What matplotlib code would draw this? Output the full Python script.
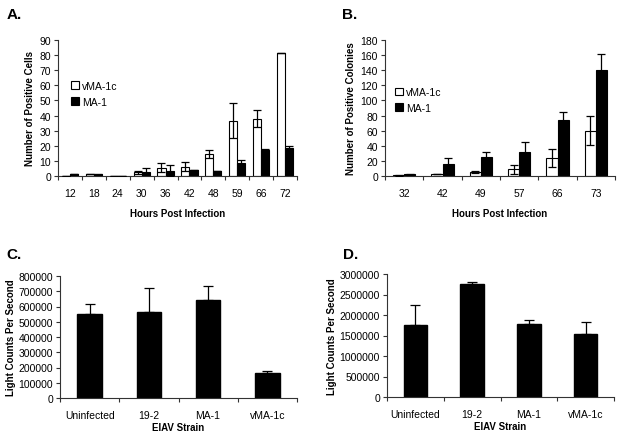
import matplotlib
matplotlib.use("Agg")
import matplotlib.pyplot as plt
import numpy as np
from matplotlib.patches import Patch

plt.rcParams['font.family'] = ['Liberation Sans', 'DejaVu Sans']

# Panel A
hours_a = ["12", "18", "24", "30", "36", "42", "48", "59", "66", "72"]
a_vma1c = [0.3, 1.0, 0.0, 2.5, 5.5, 6.0, 14.5, 36.5, 38.0, 81.5]
a_vma1c_err = [0.0, 0.0, 0.0, 1.0, 3.0, 3.0, 2.5, 11.5, 5.5, 0.0]
a_ma1 = [1.0, 1.0, 0.0, 2.5, 3.5, 4.3, 3.5, 8.5, 17.5, 18.5]
a_ma1_err = [0.0, 0.3, 0.0, 3.0, 3.8, 0.0, 0.0, 1.8, 0.5, 1.5]

# Panel B
hours_b = ["32", "42", "49", "57", "66", "73"]
b_vma1c = [1.0, 3.0, 5.0, 9.0, 24.0, 60.0]
b_vma1c_err = [0.5, 0.0, 1.5, 6.0, 11.5, 19.5]
b_ma1 = [2.0, 15.5, 24.5, 32.0, 74.0, 140.5]
b_ma1_err = [1.0, 8.5, 7.0, 13.0, 10.5, 21.5]

# Panel C
strains = ["Uninfected", "19-2", "MA-1", "vMA-1c"]
c_vals = [554000, 567000, 643000, 163000]
c_err = [63000, 155000, 92000, 15000]

# Panel D
d_vals = [1745000, 2755000, 1790000, 1545000]
d_err = [495000, 45000, 95000, 285000]

W, H = 618, 435
fig = plt.figure(figsize=(W / 100, H / 100), dpi=100)

def add_ax(left, right, top, bottom):
    return fig.add_axes([left / W, 1 - bottom / H, (right - left) / W, (bottom - top) / H])

TICK_FS = 7.5
LAB_FS = 7
LW = 0.8

def style(ax, n, ylim, yticks, fmt=None):
    for s in ['top', 'right']:
        ax.spines[s].set_visible(False)
    for s in ['left', 'bottom']:
        ax.spines[s].set_linewidth(LW)
        ax.spines[s].set_color('#333333')
    ax.set_xlim(-0.5, n - 0.5)
    ax.set_ylim(*ylim)
    ax.set_yticks(yticks)
    if fmt is not None:
        ax.set_yticklabels([fmt(v) for v in yticks])
    ax.set_xticks(np.arange(n))
    ax.set_xticks(np.arange(n + 1) - 0.5, minor=True)
    ax.tick_params(axis='x', which='major', length=0, labelsize=TICK_FS, pad=9)
    ax.tick_params(axis='x', which='minor', length=3, width=LW, direction='out', color='#333333')
    ax.tick_params(axis='y', which='major', length=3, width=LW, direction='out', labelsize=TICK_FS, pad=2, color='#333333')

def grouped(ax, cats, v1, e1, v2, e2, w, ylim, yticks, ylabel, legxy):
    x = np.arange(len(cats))
    ax.bar(x - w / 2, v1, w, color='white', edgecolor='black', linewidth=0.8, zorder=2)
    ax.bar(x + w / 2, v2, w, color='black', edgecolor='black', linewidth=0.8, zorder=2)
    ax.errorbar(x - w / 2, v1, yerr=e1, fmt='none', ecolor='black', elinewidth=0.9, capsize=3, capthick=0.9, zorder=3)
    ax.errorbar(x + w / 2, v2, yerr=e2, fmt='none', ecolor='black', elinewidth=0.9, capsize=3, capthick=0.9, zorder=3)
    style(ax, len(cats), ylim, yticks)
    ax.set_xticklabels(cats)
    ax.set_xlabel("Hours Post Infection", fontsize=LAB_FS, fontweight='bold', labelpad=7)
    ax.set_ylabel(ylabel, fontsize=LAB_FS, fontweight='bold', labelpad=3)
    handles = [Patch(facecolor='white', edgecolor='black', linewidth=0.8, label='vMA-1c'),
               Patch(facecolor='black', edgecolor='black', linewidth=0.8, label='MA-1')]
    ax.legend(handles=handles, loc='center left', bbox_to_anchor=legxy, frameon=False,
              fontsize=TICK_FS, handlelength=0.75, handleheight=0.75, handletextpad=0.3,
              labelspacing=0.55, borderpad=0, borderaxespad=0)

axA = add_ax(58, 297, 41, 177)
grouped(axA, hours_a, a_vma1c, a_vma1c_err, a_ma1, a_ma1_err, 0.34, (0, 90),
        np.arange(0, 91, 10), "Number of Positive Cells", (0.055, 0.605))

axB = add_ax(385, 615, 41, 177)
grouped(axB, hours_b, b_vma1c, b_vma1c_err, b_ma1, b_ma1_err, 0.29, (0, 180),
        np.arange(0, 181, 20), "Number of Positive Colonies", (0.045, 0.56))

def single(ax, vals, err, ylim, yticks):
    x = np.arange(len(strains))
    ax.bar(x, vals, 0.41, color='black', edgecolor='black', zorder=2)
    ax.errorbar(x, vals, yerr=[np.zeros(len(err)), err], fmt='none', ecolor='black',
                elinewidth=0.9, capsize=3.5, capthick=0.9, zorder=3)
    style(ax, len(strains), ylim, yticks, fmt=lambda v: f"{int(v)}")
    ax.set_xticklabels(strains)
    ax.tick_params(axis='x', which='major', pad=9)
    ax.set_xlabel("EIAV Strain", fontsize=LAB_FS, fontweight='bold', labelpad=1)
    ax.set_ylabel("Light Counts Per Second", fontsize=LAB_FS, fontweight='bold', labelpad=2)

axC = add_ax(60, 297, 277, 399)
single(axC, c_vals, c_err, (0, 800000), np.arange(0, 800001, 100000))

axD = add_ax(387, 614, 275, 398)
single(axD, d_vals, d_err, (0, 3000000), np.arange(0, 3000001, 500000))

for lbl, (px, py) in {"A.": (7, 15), "B.": (342, 15), "C.": (6, 255), "D.": (343, 255)}.items():
    fig.text(px / W, 1 - py / H, lbl, fontsize=11, fontweight='bold', va='center', ha='left')

fig.savefig("out.png", dpi=100)
